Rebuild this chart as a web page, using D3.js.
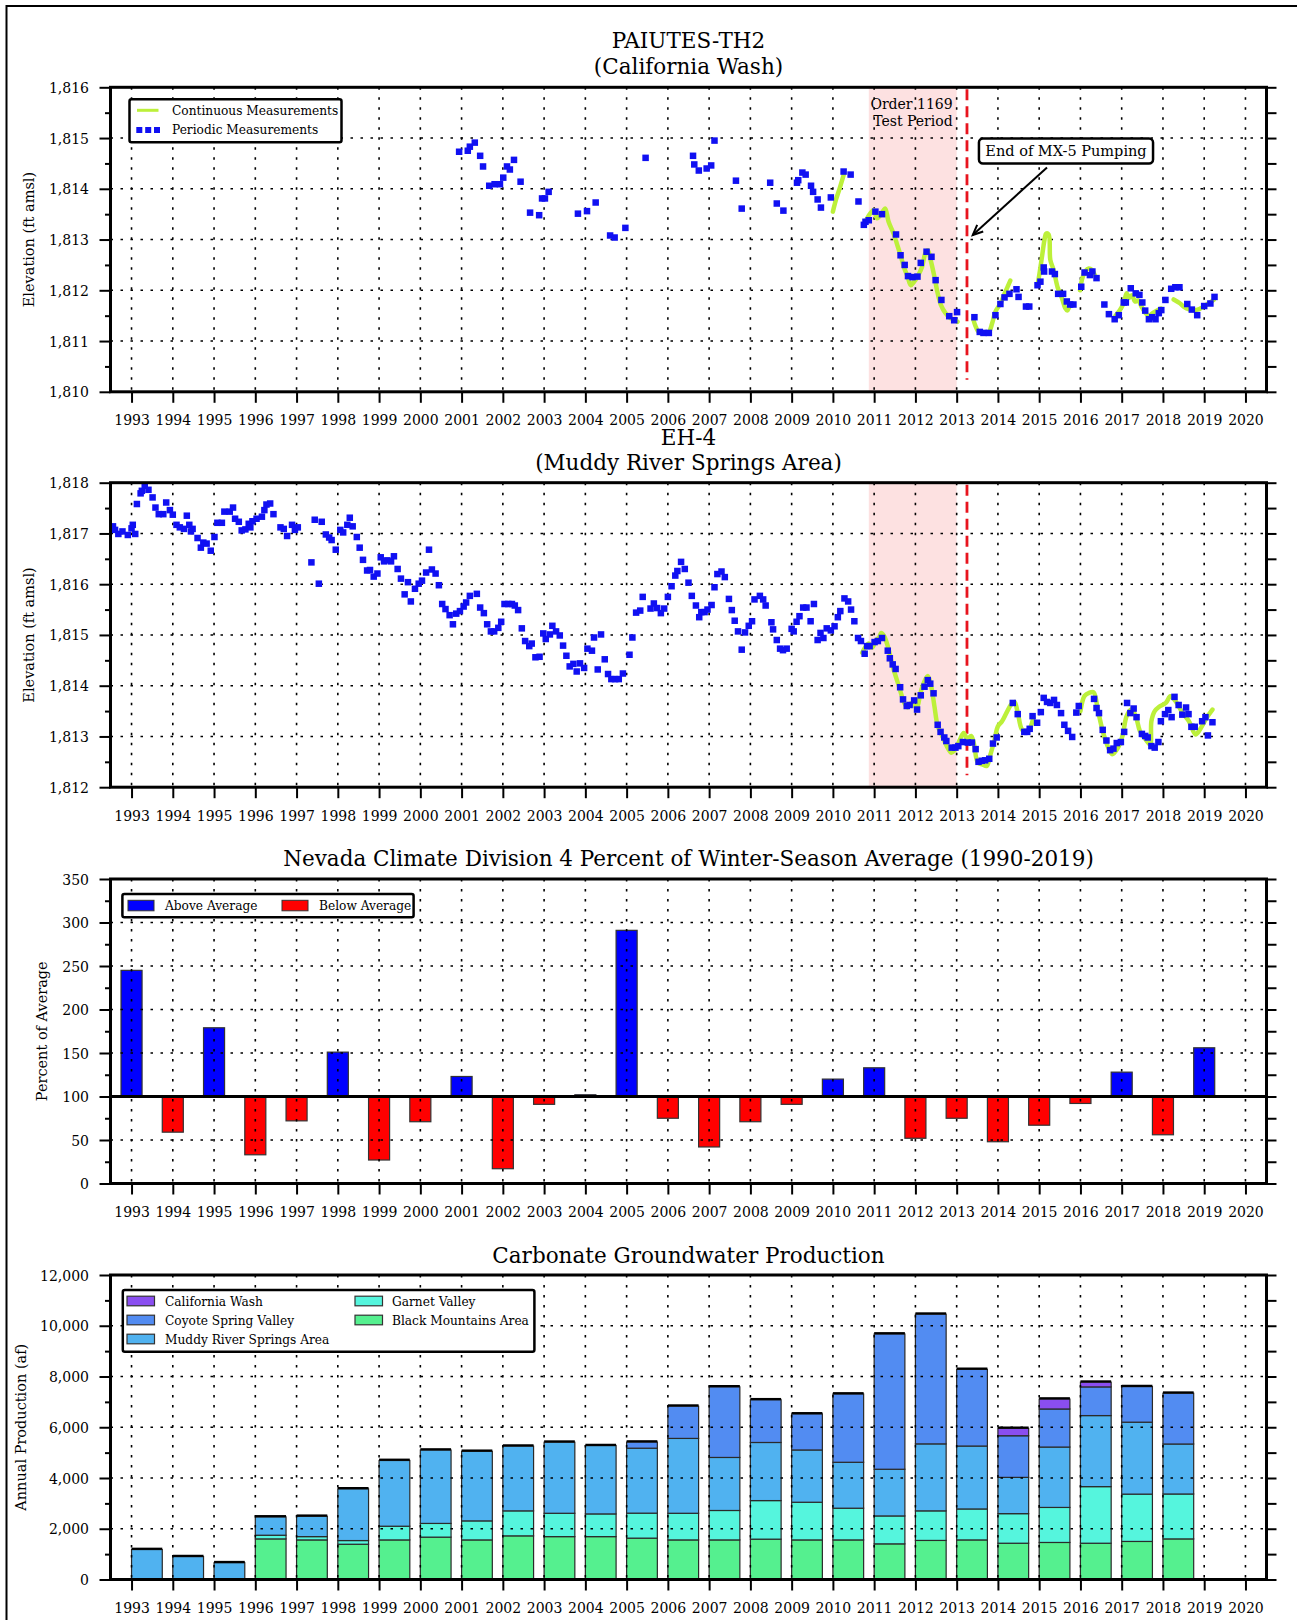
<!DOCTYPE html>
<html>
<head>
<meta charset="utf-8">
<script src="https://cdn.jsdelivr.net/npm/d3@7"></script>
<style>
  body { margin: 0; background: #fff; }
  svg { display: block; font-family: "DejaVu Serif", serif; }
</style>
</head>
<body>
<svg id="chart" width="1297" height="1620"></svg>
<script>
// ---------- shared tick labels ----------
const yearTicks = d3.range(1993, 2021);

// ---------- PAIUTES-TH2 (California Wash) ----------
const th2Periodic = [
  [2000.94,1814.73],[2001.15,1814.75],[2001.20,1814.83],[2001.32,1814.91],[2001.45,1814.65],[2001.52,1814.44],
  [2001.67,1814.06],[2001.80,1814.09],[2001.93,1814.09],[2002.01,1814.22],[2002.10,1814.44],[2002.17,1814.38],
  [2002.27,1814.57],[2002.43,1814.14],[2002.66,1813.53],[2002.88,1813.48],[2002.95,1813.81],[2003.02,1813.81],
  [2003.11,1813.94],[2003.82,1813.51],[2004.04,1813.56],[2004.25,1813.73],[2004.60,1813.08],[2004.71,1813.04],
  [2004.97,1813.23],[2005.46,1814.61],[2006.61,1814.65],[2006.64,1814.48],[2006.75,1814.36],[2006.94,1814.40],
  [2007.05,1814.46],[2007.13,1814.95],[2007.65,1814.16],[2007.79,1813.61],[2008.48,1814.12],[2008.64,1813.71],
  [2008.80,1813.57],[2009.13,1814.12],[2009.16,1814.17],[2009.26,1814.32],[2009.34,1814.28],[2009.47,1814.06],
  [2009.52,1813.94],[2009.63,1813.79],[2009.71,1813.63],[2009.95,1813.83],[2010.26,1814.34],[2010.43,1814.28],
  [2010.62,1813.75],[2010.75,1813.29],[2010.79,1813.35],[2010.87,1813.38],[2011.03,1813.55],[2011.19,1813.50],
  [2011.53,1813.10],[2011.64,1812.69],[2011.74,1812.50],[2011.82,1812.28],[2011.93,1812.26],[2012.05,1812.27],
  [2012.13,1812.54],[2012.27,1812.76],[2012.39,1812.66],[2012.49,1812.20],[2012.63,1811.81],[2012.82,1811.49],
  [2012.94,1811.41],[2013.01,1811.57],[2013.43,1811.47],[2013.56,1811.18],[2013.65,1811.16],[2013.78,1811.16],
  [2013.94,1811.51],[2014.06,1811.73],[2014.16,1811.86],[2014.28,1811.93],[2014.45,1812.02],[2014.50,1811.87],
  [2014.68,1811.68],[2014.76,1811.68],[2014.96,1812.10],[2015.03,1812.17],[2015.11,1812.45],[2015.12,1812.37],
  [2015.31,1812.37],[2015.38,1812.32],[2015.46,1811.93],[2015.58,1811.93],[2015.67,1811.78],[2015.75,1811.72],
  [2015.83,1811.72],[2016.02,1812.07],[2016.10,1812.35],[2016.23,1812.30],[2016.29,1812.37],[2016.39,1812.24],
  [2016.58,1811.72],[2016.69,1811.53],[2016.83,1811.43],[2016.93,1811.51],[2017.05,1811.76],[2017.10,1811.76],
  [2017.22,1812.04],[2017.34,1811.94],[2017.43,1811.91],[2017.50,1811.76],[2017.57,1811.60],[2017.66,1811.43],
  [2017.74,1811.47],[2017.82,1811.43],[2017.90,1811.55],[2017.96,1811.61],[2018.06,1811.81],[2018.20,1812.03],
  [2018.30,1812.06],[2018.40,1812.06],[2018.59,1811.73],[2018.70,1811.62],[2018.83,1811.51],[2019.00,1811.69],
  [2019.15,1811.74],[2019.25,1811.87]
];
// continuous record; a null value breaks the line
const th2Continuous = [
  [2010.00,1813.55],[2010.08,1813.80],[2010.16,1814.00],[2010.26,1814.27],[2010.30,null],
  [2010.75,1813.28],[2010.83,1813.42],[2010.91,1813.52],[2010.99,1813.58],[2011.07,1813.42],[2011.15,1813.48],
  [2011.23,1813.58],[2011.27,1813.61],[2011.35,1813.35],[2011.47,1813.12],[2011.55,1812.92],[2011.64,1812.69],
  [2011.72,1812.46],[2011.81,1812.27],[2011.89,1812.10],[2011.97,1812.17],[2012.05,1812.27],[2012.16,1812.46],
  [2012.24,1812.73],[2012.30,1812.79],[2012.38,1812.56],[2012.46,1812.27],[2012.54,1811.94],[2012.62,1811.71],
  [2012.73,1811.55],[2012.85,1811.45],[2012.97,1811.41],[2013.02,1811.38],[2013.20,null],
  [2013.41,1811.41],[2013.45,1811.31],[2013.53,1811.18],[2013.65,1811.15],[2013.78,1811.18],[2013.86,1811.35],
  [2013.94,1811.58],[2014.06,1811.74],[2014.18,1811.97],[2014.30,1812.19],[2014.50,null],
  [2014.97,1812.14],[2015.03,1812.45],[2015.08,1812.73],[2015.13,1813.00],[2015.17,1813.12],[2015.23,1813.10],
  [2015.27,1812.60],[2015.35,1812.40],[2015.45,1812.05],[2015.55,1811.85],[2015.63,1811.65],[2015.68,1811.60],
  [2015.75,1811.70],[2015.80,1811.72],[2015.90,null],
  [2015.99,1812.00],[2016.05,1812.25],[2016.12,1812.38],[2016.20,1812.43],[2016.28,1812.40],[2016.35,1812.30],
  [2016.38,1812.26],[2016.60,null],
  [2016.85,1811.50],[2016.95,1811.60],[2017.05,1811.75],[2017.12,1811.94],[2017.18,1811.85],[2017.25,1811.90],
  [2017.32,1811.78],[2017.40,1811.80],[2017.48,1811.68],[2017.58,1811.55],[2017.66,1811.50],[2017.75,1811.55],
  [2017.85,1811.60],[2017.95,1811.64],[2018.10,null],
  [2018.26,1811.82],[2018.40,1811.75],[2018.50,1811.68],[2018.62,1811.63],[2018.75,1811.61],[2018.88,1811.63],
  [2018.99,1811.68],[2019.10,1811.74],[2019.23,1811.81]
];

// ---------- EH-4 (Muddy River Springs Area) ----------
const eh4Periodic = [
  [1992.55,1817.14],[1992.60,1817.07],[1992.68,1816.99],[1992.78,1817.04],[1992.91,1816.97],[1993.00,1817.10],
  [1993.03,1817.17],[1993.09,1816.99],[1993.13,1817.58],[1993.22,1817.79],[1993.25,1817.84],[1993.32,1817.94],
  [1993.41,1817.86],[1993.51,1817.71],[1993.58,1817.51],[1993.66,1817.38],[1993.77,1817.38],[1993.84,1817.61],
  [1993.93,1817.46],[1994.00,1817.37],[1994.09,1817.17],[1994.17,1817.12],[1994.27,1817.09],[1994.34,1817.35],
  [1994.40,1817.17],[1994.44,1817.04],[1994.48,1817.09],[1994.60,1816.91],[1994.68,1816.72],[1994.74,1816.82],
  [1994.82,1816.80],[1994.92,1816.66],[1995.01,1816.93],[1995.08,1817.21],[1995.19,1817.21],[1995.25,1817.43],
  [1995.38,1817.43],[1995.46,1817.51],[1995.51,1817.29],[1995.60,1817.23],[1995.67,1817.06],[1995.76,1817.08],
  [1995.84,1817.19],[1995.88,1817.12],[1995.93,1817.24],[1996.03,1817.29],[1996.16,1817.33],[1996.22,1817.46],
  [1996.27,1817.57],[1996.36,1817.59],[1996.44,1817.38],[1996.61,1817.12],[1996.69,1817.09],[1996.77,1816.95],
  [1996.89,1817.17],[1996.96,1817.07],[1997.03,1817.12],[1997.36,1816.43],[1997.44,1817.27],[1997.54,1816.01],
  [1997.61,1817.23],[1997.71,1816.98],[1997.79,1816.92],[1997.85,1816.87],[1997.95,1816.68],[1998.06,1817.07],
  [1998.13,1817.02],[1998.23,1817.17],[1998.29,1817.31],[1998.36,1817.14],[1998.46,1816.93],[1998.53,1816.72],
  [1998.61,1816.48],[1998.71,1816.27],[1998.78,1816.28],[1998.87,1816.15],[1998.96,1816.21],[1999.04,1816.53],
  [1999.12,1816.45],[1999.20,1816.47],[1999.29,1816.45],[1999.36,1816.55],[1999.45,1816.30],[1999.53,1816.11],
  [1999.62,1815.80],[1999.70,1816.04],[1999.77,1815.66],[1999.87,1815.91],[1999.96,1816.01],[2000.04,1816.07],
  [2000.14,1816.23],[2000.21,1816.68],[2000.28,1816.29],[2000.37,1816.21],[2000.45,1815.98],[2000.53,1815.61],
  [2000.61,1815.51],[2000.71,1815.39],[2000.79,1815.21],[2000.87,1815.42],[2000.96,1815.47],[2001.05,1815.56],
  [2001.11,1815.64],[2001.20,1815.77],[2001.37,1815.81],[2001.45,1815.54],[2001.54,1815.43],[2001.62,1815.21],
  [2001.71,1815.07],[2001.79,1815.07],[2001.89,1815.14],[2001.96,1815.26],[2002.04,1815.61],[2002.13,1815.61],
  [2002.22,1815.61],[2002.29,1815.58],[2002.37,1815.49],[2002.46,1815.13],[2002.54,1814.88],[2002.64,1814.78],
  [2002.70,1814.83],[2002.79,1814.56],[2002.89,1814.57],[2002.98,1815.03],[2003.04,1814.92],[2003.14,1815.01],
  [2003.20,1815.18],[2003.29,1815.07],[2003.38,1814.99],[2003.46,1814.79],[2003.54,1814.59],[2003.62,1814.38],
  [2003.71,1814.43],[2003.79,1814.28],[2003.87,1814.44],[2003.97,1814.35],[2004.05,1814.73],[2004.16,1814.69],
  [2004.21,1814.95],[2004.30,1814.32],[2004.38,1815.01],[2004.47,1814.52],[2004.55,1814.23],[2004.63,1814.13],
  [2004.72,1814.13],[2004.81,1814.13],[2004.91,1814.24],[2005.07,1814.61],[2005.14,1814.95],[2005.23,1815.44],
  [2005.33,1815.48],[2005.39,1815.75],[2005.58,1815.52],[2005.66,1815.62],[2005.74,1815.53],[2005.83,1815.43],
  [2005.91,1815.52],[2006.00,1815.75],[2006.09,1815.96],[2006.18,1816.17],[2006.23,1816.26],[2006.32,1816.44],
  [2006.41,1816.30],[2006.50,1816.03],[2006.58,1815.77],[2006.68,1815.58],[2006.76,1815.35],[2006.81,1815.45],
  [2006.89,1815.45],[2006.96,1815.50],[2007.06,1815.59],[2007.13,1815.94],[2007.20,1816.20],[2007.30,1816.25],
  [2007.38,1816.14],[2007.48,1815.71],[2007.55,1815.49],[2007.62,1815.28],[2007.70,1815.07],[2007.79,1814.71],
  [2007.87,1815.05],[2007.96,1815.18],[2008.04,1815.27],[2008.10,1815.70],[2008.23,1815.77],[2008.31,1815.70],
  [2008.37,1815.58],[2008.51,1815.25],[2008.55,1815.11],[2008.64,1814.90],[2008.72,1814.73],[2008.79,1814.70],
  [2008.88,1814.73],[2009.00,1815.12],[2009.05,1815.07],[2009.12,1815.26],[2009.19,1815.37],[2009.28,1815.54],
  [2009.36,1815.54],[2009.46,1815.27],[2009.54,1815.61],[2009.63,1814.90],[2009.70,1815.04],[2009.77,1814.94],
  [2009.85,1815.13],[2009.95,1815.09],[2010.04,1815.17],[2010.12,1815.35],[2010.18,1815.47],[2010.28,1815.72],
  [2010.37,1815.66],[2010.44,1815.50],[2010.52,1815.27],[2010.61,1814.94],[2010.68,1814.88],[2010.77,1814.63],
  [2010.83,1814.78],[2010.89,1814.78],[2011.01,1814.86],[2011.09,1814.88],[2011.19,1814.94],[2011.33,1814.69],
  [2011.38,1814.54],[2011.45,1814.42],[2011.52,1814.33],[2011.63,1813.97],[2011.70,1813.73],[2011.79,1813.60],
  [2011.86,1813.62],[2011.97,1813.71],[2012.04,1813.53],[2012.13,1813.81],[2012.22,1813.98],[2012.30,1814.11],
  [2012.36,1814.04],[2012.44,1813.85],[2012.54,1813.23],[2012.61,1813.09],[2012.70,1812.98],[2012.75,1812.91],
  [2012.88,1812.78],[2012.97,1812.78],[2013.04,1812.81],[2013.15,1812.89],[2013.27,1812.88],[2013.37,1812.88],
  [2013.46,1812.75],[2013.53,1812.50],[2013.61,1812.52],[2013.69,1812.53],[2013.79,1812.56],[2013.88,1812.86],
  [2013.97,1812.98],[2014.36,1813.66],[2014.48,1813.44],[2014.64,1813.09],[2014.71,1813.09],[2014.77,1813.15],
  [2014.84,1813.40],[2014.95,1813.27],[2015.04,1813.48],[2015.11,1813.76],[2015.19,1813.68],[2015.27,1813.66],
  [2015.36,1813.72],[2015.43,1813.62],[2015.53,1813.46],[2015.61,1813.23],[2015.70,1813.11],[2015.80,1812.99],
  [2015.90,1813.47],[2015.96,1813.60],[2016.33,1813.74],[2016.39,1813.56],[2016.45,1813.46],[2016.54,1813.13],
  [2016.63,1812.92],[2016.72,1812.73],[2016.80,1812.76],[2016.88,1812.87],[2016.98,1812.89],[2017.06,1813.09],
  [2017.13,1813.66],[2017.21,1813.46],[2017.29,1813.55],[2017.36,1813.38],[2017.49,1813.05],[2017.57,1813.01],
  [2017.63,1812.98],[2017.72,1812.81],[2017.80,1812.78],[2017.89,1812.89],[2017.95,1813.30],[2018.05,1813.44],
  [2018.13,1813.52],[2018.21,1813.38],[2018.28,1813.78],[2018.38,1813.62],[2018.47,1813.43],[2018.56,1813.57],
  [2018.62,1813.44],[2018.69,1813.19],[2018.77,1813.19],[2018.95,1813.30],[2019.03,1813.38],[2019.09,1813.02],
  [2019.20,1813.28]
];
const eh4Continuous = [
  [2010.71,1814.65],[2010.78,1814.75],[2010.87,1814.83],[2010.95,1814.75],[2011.05,1814.90],[2011.12,1814.95],
  [2011.17,1815.04],[2011.24,1814.98],[2011.33,1814.78],[2011.45,1814.38],[2011.60,1813.99],[2011.73,1813.66],
  [2011.81,1813.57],[2011.90,1813.66],[2012.03,1813.57],[2012.12,1813.85],[2012.20,1814.05],[2012.30,1814.19],
  [2012.38,1814.00],[2012.46,1813.60],[2012.54,1813.21],[2012.65,1813.01],[2012.76,1812.81],[2012.87,1812.68],
  [2012.97,1812.75],[2013.08,1812.94],[2013.17,1813.07],[2013.26,1812.95],[2013.35,1813.01],[2013.42,1812.85],
  [2013.51,1812.49],[2013.62,1812.45],[2013.73,1812.42],[2013.81,1812.62],[2013.92,1812.94],[2014.00,1813.20],
  [2014.10,1813.30],[2014.21,1813.47],[2014.32,1813.63],[2014.40,1813.68],[2014.48,1813.47],[2014.58,1813.14],
  [2014.69,1813.08],[2014.78,1813.17],[2014.86,1813.37],[2015.40,null],
  [2016.00,1813.50],[2016.10,1813.80],[2016.21,1813.86],[2016.32,1813.87],[2016.42,1813.53],[2016.53,1813.14],
  [2016.64,1812.85],[2016.77,1812.65],[2016.91,1812.78],[2017.02,1813.01],[2017.12,1813.40],[2017.23,1813.53],
  [2017.34,1813.40],[2017.44,1813.11],[2017.58,1812.94],[2017.69,1812.84],[2017.72,1813.30],[2017.80,1813.50],
  [2017.90,1813.58],[2018.07,1813.66],[2018.18,1813.79],[2018.30,1813.70],[2018.47,1813.47],[2018.63,1813.30],
  [2018.79,1813.04],[2018.90,1813.14],[2019.06,1813.37],[2019.20,1813.53]
];

// ---------- events ----------
const testPeriod = [2010.87, 2013.0];   // Order 1169 test period
const mx5End = 2013.25;                 // end of MX-5 pumping

// ---------- winter-season precipitation, percent of average ----------
const precipYears = d3.range(1993, 2020);
const precipPct = [245, 59, 179, 33, 72, 151, 27, 71, 123, 17, 91, 102, 291, 75, 42, 71, 91, 120, 133, 52, 75, 48, 67, 92, 128, 56, 156];

// ---------- carbonate groundwater production (af) ----------
const prodYears = d3.range(1993, 2019);
const blackMountains = [0,0,0,1600,1560,1390,1560,1670,1560,1720,1690,1690,1630,1560,1560,1590,1560,1560,1405,1540,1560,1430,1460,1430,1500,1600];
const garnetValley   = [0,0,0,145,130,145,540,540,750,985,920,895,985,1050,1160,1520,1485,1250,1100,1165,1220,1165,1380,2230,1865,1770];
const muddyRiver     = [1180,900,660,720,800,2035,2590,2890,2740,2550,2800,2690,2560,2950,2090,2290,2060,1810,1840,2640,2480,1430,2380,2800,2835,1970];
const coyoteSpring   = [0,0,0,0,0,0,0,0,0,0,0,0,240,1270,2780,1680,1420,2690,5330,5110,3020,1640,1500,1130,1400,2000];
const californiaWash = [0,0,0,0,0,0,0,0,0,0,0,0,0,0,0,0,0,0,0,0,0,290,390,185,0,0];

// ---------- layout ----------
const svg = d3.select('#chart');
const FONT = '"DejaVu Serif", serif';
const plotH = 304.5;
const x = d3.scaleLinear().domain([1992.49, 2020.51]).range([110.5, 1266.5]);
const [X0, X1] = x.range();
const XC = (X0 + X1) / 2;

// page border
svg.append('path').attr('d', 'M6.5,1620 V6 H1297').attr('fill', 'none').attr('stroke', '#000').attr('stroke-width', 2);

function grid(g, y, hVals) {
  const [yb, yt] = y.range();
  const dot = s => s.attr('stroke', '#000').attr('stroke-width', 1.6).attr('stroke-dasharray', '2.5 7.5');
  g.append('g').selectAll('line').data(yearTicks).join('line')
    .attr('x1', d => x(d)).attr('x2', d => x(d)).attr('y1', yt).attr('y2', yb).call(dot);
  g.append('g').selectAll('line').data(hVals).join('line')
    .attr('x1', X0).attr('x2', X1).attr('y1', d => y(d)).attr('y2', d => y(d)).call(dot);
}

function axes(g, y, majors, minors, fmt) {
  const [yb, yt] = y.range();
  const add = (gen, tx, ty) => g.append('g').attr('transform', `translate(${tx},${ty})`)
    .call(gen).call(s => s.select('.domain').remove())
    .attr('font-family', FONT).attr('font-size', 14);
  const L = add(d3.axisLeft(y).tickValues(majors).tickFormat(fmt).tickSize(11), X0, 0);
  L.selectAll('text').attr('x', -21.5).attr('dy', '0.36em');
  add(d3.axisLeft(y).tickValues(minors).tickFormat(() => '').tickSize(5.5), X0, 0);
  add(d3.axisRight(y).tickValues(majors.concat(minors)).tickFormat(() => '').tickSize(10), X1, 0);
  const B = add(d3.axisBottom(x).tickValues(yearTicks).tickFormat(d3.format('d')).tickSize(11), 0, yb);
  B.selectAll('text').attr('y', 33.7).attr('dy', 0);
  g.selectAll('.tick line').attr('stroke', '#000').attr('stroke-width', 2);
  g.selectAll('.tick text').attr('fill', '#000');
  g.append('rect').attr('x', X0).attr('y', yt).attr('width', X1 - X0).attr('height', yb - yt)
    .attr('fill', 'none').attr('stroke', '#000').attr('stroke-width', 3);
}

function titles(g, lines, baselines) {
  lines.forEach((t, i) => g.append('text').attr('x', XC).attr('y', baselines[i])
    .attr('text-anchor', 'middle').attr('font-size', 21.5).attr('font-family', FONT).text(t));
}

function yTitle(g, text, cx, cy) {
  g.append('text').attr('transform', `translate(${cx},${cy}) rotate(-90)`)
    .attr('text-anchor', 'middle').attr('dy', '0.35em').attr('font-size', 14.5).attr('font-family', FONT).text(text);
}

const GREEN = '#bcf03a', BLUE = '#1010f2', PINK = '#fde1e1', RED = '#e8141e';

function timePanel(top, domain, periodic, continuous, titleLines, titleBase, annotate) {
  const g = svg.append('g');
  const y = d3.scaleLinear().domain(domain).range([top + plotH, top]);
  const majors = d3.range(domain[0], domain[1] + 1);
  const minors = majors.slice(0, -1).map(v => v + 0.5);
  const bottom = top + plotH;

  g.append('rect').attr('x', x(testPeriod[0])).attr('y', top)
    .attr('width', x(testPeriod[1]) - x(testPeriod[0])).attr('height', plotH).attr('fill', PINK);
  grid(g, y, majors.slice(1, -1));
  g.append('line').attr('x1', x(mx5End)).attr('x2', x(mx5End)).attr('y1', top + 2).attr('y2', bottom - 12)
    .attr('stroke', RED).attr('stroke-width', 2.8).attr('stroke-dasharray', '11 6');

  const line = d3.line().defined(d => d[1] != null).x(d => x(d[0])).y(d => y(d[1])).curve(d3.curveCatmullRom);
  g.append('path').datum(continuous).attr('d', line).attr('fill', 'none').attr('stroke', GREEN)
    .attr('stroke-width', 4.5).attr('stroke-linejoin', 'round').attr('stroke-linecap', 'round');
  const s = 6.5;
  g.append('g').selectAll('rect').data(periodic).join('rect')
    .attr('x', d => x(d[0]) - s / 2).attr('y', d => y(d[1]) - s / 2).attr('width', s).attr('height', s).attr('fill', BLUE);

  axes(g, y, majors, minors, d3.format(','));
  titles(g, titleLines, titleBase);
  yTitle(g, 'Elevation (ft amsl)', 28.5, top + plotH / 2);
  if (annotate) annotate(g, y, top);
}

// ---- panel 1 ----
timePanel(87.3, [1810, 1816], th2Periodic, th2Continuous, ['PAIUTES-TH2', '(California Wash)'], [48.3, 74], (g, y, top) => {
  // legend
  const lg = g.append('g').attr('font-family', FONT).attr('font-size', 12.2);
  lg.append('rect').attr('x', 129.5).attr('y', top + 12).attr('width', 212).attr('height', 43).attr('rx', 2)
    .attr('fill', '#fff').attr('stroke', '#000').attr('stroke-width', 2.5);
  lg.append('line').attr('x1', 137).attr('x2', 158.5).attr('y1', top + 23).attr('y2', top + 23)
    .attr('stroke', GREEN).attr('stroke-width', 3);
  lg.append('text').attr('x', 172).attr('y', top + 27.7).text('Continuous Measurements');
  lg.selectAll('rect.sq').data([139.3, 148.2, 157]).join('rect').attr('class', 'sq')
    .attr('x', d => d - 3).attr('y', top + 39.7).attr('width', 6).attr('height', 6).attr('fill', BLUE);
  lg.append('text').attr('x', 172).attr('y', top + 46.7).text('Periodic Measurements');
  // test period label
  const tx = x(testPeriod[1]) - 4;
  g.append('text').attr('x', tx).attr('y', top + 22).attr('text-anchor', 'end').attr('font-size', 14).attr('font-family', FONT).text('Order 1169');
  g.append('text').attr('x', tx).attr('y', top + 38.7).attr('text-anchor', 'end').attr('font-size', 14).attr('font-family', FONT).text('Test Period');
  // end of MX-5 pumping callout
  const bx0 = x(2013.54), bx1 = x(2017.76), by0 = y(1814.99), by1 = y(1814.50);
  g.append('rect').attr('x', bx0).attr('y', by0).attr('width', bx1 - bx0).attr('height', by1 - by0).attr('rx', 4)
    .attr('fill', '#fff').attr('stroke', '#000').attr('stroke-width', 2.5);
  g.append('text').attr('x', (bx0 + bx1) / 2).attr('y', by1 - 7).attr('text-anchor', 'middle')
    .attr('font-size', 14.5).attr('font-family', FONT).text('End of MX-5 Pumping');
  const ax0 = x(2015.19), ay0 = y(1814.42), ax1 = x(2013.39), ay1 = y(1813.09);
  g.append('line').attr('x1', ax0).attr('y1', ay0).attr('x2', ax1).attr('y2', ay1).attr('stroke', '#000').attr('stroke-width', 2);
  const ang = Math.atan2(ay1 - ay0, ax1 - ax0), hl = 11, spread = 0.42;
  g.append('path').attr('d', `M${ax1 - hl * Math.cos(ang - spread)},${ay1 - hl * Math.sin(ang - spread)} L${ax1},${ay1} L${ax1 - hl * Math.cos(ang + spread)},${ay1 - hl * Math.sin(ang + spread)}`)
    .attr('fill', 'none').attr('stroke', '#000').attr('stroke-width', 2);
});

// ---- panel 2 ----
timePanel(482.7, [1812, 1818], eh4Periodic, eh4Continuous, ['EH-4', '(Muddy River Springs Area)'], [445, 470], null);

// ---- panel 3: precipitation ----
(function () {
  const top = 879, bottom = top + plotH;
  const g = svg.append('g');
  const y = d3.scaleLinear().domain([0, 350]).range([bottom, top]);
  const base = 100;
  const hw = (x(1993.255) - x(1992.745)) / 2;
  g.append('g').selectAll('rect').data(precipYears.map((yr, i) => [yr, precipPct[i]])).join('rect')
    .attr('x', d => x(d[0]) - hw).attr('width', hw * 2)
    .attr('y', d => y(Math.max(d[1], base))).attr('height', d => Math.abs(y(d[1]) - y(base)))
    .attr('fill', d => d[1] >= base ? '#0000ff' : '#ff0000').attr('stroke', '#333').attr('stroke-width', 1.2);
  grid(g, y, [50, 150, 200, 250, 300]);
  g.append('line').attr('x1', X0).attr('x2', X1).attr('y1', y(base)).attr('y2', y(base)).attr('stroke', '#000').attr('stroke-width', 3);
  axes(g, y, d3.range(0, 351, 50), d3.range(25, 350, 50), d3.format('d'));
  titles(g, ['Nevada Climate Division 4 Percent of Winter-Season Average (1990-2019)'], [866]);
  yTitle(g, 'Percent of Average', 42, top + plotH / 2);
  const lg = g.append('g').attr('font-family', FONT).attr('font-size', 12.2);
  lg.append('rect').attr('x', 122.4).attr('y', top + 15).attr('width', 291.2).attr('height', 23.3).attr('rx', 2)
    .attr('fill', '#fff').attr('stroke', '#000').attr('stroke-width', 2.5);
  [['Above Average', '#0000ff', 128, 165], ['Below Average', '#ff0000', 282, 319]].forEach(([t, c, sx, tx]) => {
    lg.append('rect').attr('x', sx).attr('y', top + 21.3).attr('width', 26).attr('height', 10.5).attr('fill', c)
      .attr('stroke', '#333').attr('stroke-width', 1);
    lg.append('text').attr('x', tx).attr('y', top + 31).text(t);
  });
})();

// ---- panel 4: production ----
(function () {
  const top = 1275, bottom = top + plotH;
  const g = svg.append('g');
  const y = d3.scaleLinear().domain([0, 12000]).range([bottom, top]);
  const keys = ['Black Mountains Area', 'Garnet Valley', 'Muddy River Springs Area', 'Coyote Spring Valley', 'California Wash'];
  const cols = [blackMountains, garnetValley, muddyRiver, coyoteSpring, californiaWash];
  const colors = {
    'California Wash': '#8a4ef0', 'Coyote Spring Valley': '#528cf2', 'Muddy River Springs Area': '#50b2f0',
    'Garnet Valley': '#55f5dd', 'Black Mountains Area': '#55f08f'
  };
  const table = prodYears.map((yr, i) => {
    const row = { year: yr };
    keys.forEach((k, j) => row[k] = cols[j][i]);
    return row;
  });
  const stack = d3.stack().keys(keys)(table);
  const bw = yr => x(yr + 0.745) - x(yr);
  stack.forEach(layer => {
    g.append('g').selectAll('rect').data(layer.filter(d => d[1] - d[0] > 0)).join('rect')
      .attr('x', d => x(d.data.year)).attr('width', d => bw(d.data.year))
      .attr('y', d => y(d[1])).attr('height', d => y(d[0]) - y(d[1]))
      .attr('fill', colors[layer.key]).attr('stroke', '#2a2a2a').attr('stroke-width', 1.2);
  });
  const totals = table.map(r => ({ year: r.year, total: d3.sum(keys, k => r[k]) }));
  g.append('g').selectAll('line').data(totals).join('line')
    .attr('x1', d => x(d.year)).attr('x2', d => x(d.year) + bw(d.year))
    .attr('y1', d => y(d.total) - 0.8).attr('y2', d => y(d.total) - 0.8)
    .attr('stroke', '#000').attr('stroke-width', 2.2);
  grid(g, y, d3.range(2000, 10001, 2000));
  axes(g, y, d3.range(0, 12001, 2000), d3.range(1000, 12000, 2000), d3.format(','));
  titles(g, ['Carbonate Groundwater Production'], [1262.7]);
  yTitle(g, 'Annual Production (af)', 20.5, top + plotH / 2);
  const lg = g.append('g').attr('font-family', FONT).attr('font-size', 12.2);
  lg.append('rect').attr('x', 122.8).attr('y', top + 15).attr('width', 411.6).attr('height', 61.7).attr('rx', 2)
    .attr('fill', '#fff').attr('stroke', '#000').attr('stroke-width', 2.5);
  const entries = [
    ['California Wash', 127, 165, 26], ['Coyote Spring Valley', 127, 165, 45], ['Muddy River Springs Area', 127, 165, 64],
    ['Garnet Valley', 355, 392, 26], ['Black Mountains Area', 355, 392, 45]
  ];
  entries.forEach(([k, sx, tx, cy]) => {
    lg.append('rect').attr('x', sx).attr('y', top + cy - 4.8).attr('width', 27.5).attr('height', 9.6)
      .attr('fill', colors[k]).attr('stroke', '#333').attr('stroke-width', 1.2);
    lg.append('text').attr('x', tx).attr('y', top + cy + 4.5).text(k);
  });
})();
</script>
</body>
</html>
